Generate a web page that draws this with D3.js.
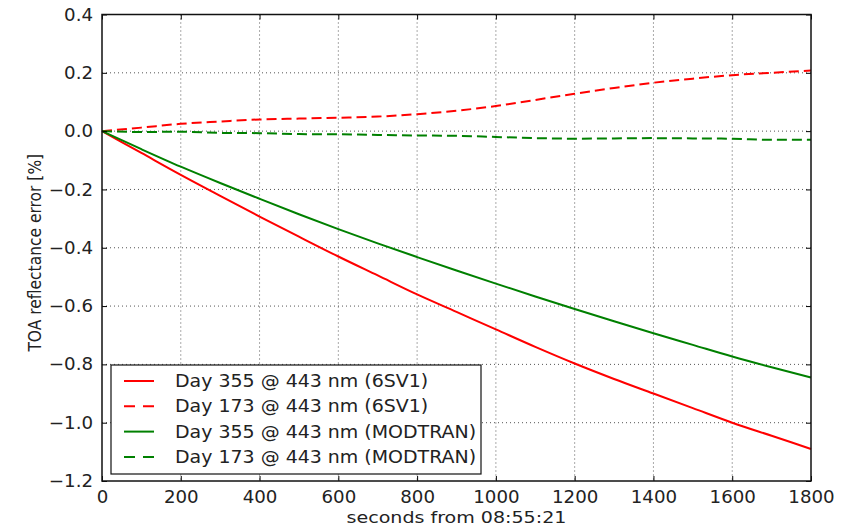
<!DOCTYPE html>
<html>
<head>
<meta charset="utf-8">
<script src="https://cdn.jsdelivr.net/npm/d3@7"></script>
<style>
  body { margin: 0; background: #fff; }
  text { font-family: "DejaVu Sans", sans-serif; fill: #222; }
</style>
</head>
<body>
<div class="chart"></div>
<script>
/*** DATA ***/
const seconds = [0, 100, 200, 300, 400, 500, 600, 700, 800, 900, 1000, 1100, 1200, 1300, 1400, 1500, 1600, 1700, 1800];
const day355_6sv = [0, -0.075, -0.15, -0.222, -0.293, -0.362, -0.43, -0.495, -0.56, -0.62, -0.68, -0.74, -0.797, -0.85, -0.90, -0.95, -1.0, -1.045, -1.09];
const day173_6sv = [0, 0.012, 0.025, 0.033, 0.04, 0.043, 0.046, 0.05, 0.058, 0.07, 0.086, 0.107, 0.128, 0.148, 0.166, 0.18, 0.192, 0.2, 0.208];
const day355_mod = [0, -0.062, -0.122, -0.178, -0.232, -0.285, -0.336, -0.385, -0.432, -0.478, -0.523, -0.567, -0.61, -0.652, -0.693, -0.733, -0.773, -0.81, -0.845];
const day173_mod = [0, -0.003, -0.002, -0.006, -0.007, -0.01, -0.011, -0.013, -0.015, -0.016, -0.02, -0.024, -0.026, -0.025, -0.024, -0.025, -0.026, -0.03, -0.03];

const xTicks = [0, 200, 400, 600, 800, 1000, 1200, 1400, 1600, 1800];
const yTicks = [0.4, 0.2, 0.0, -0.2, -0.4, -0.6, -0.8, -1.0, -1.2];

const series = [
  { label: 'Day 355 @ 443 nm (6SV1)', values: day355_6sv, color: '#ff0000', dash: null },
  { label: 'Day 173 @ 443 nm (6SV1)', values: day173_6sv, color: '#ff0000', dash: '10,5' },
  { label: 'Day 355 @ 443 nm (MODTRAN)', values: day355_mod, color: '#008000', dash: null },
  { label: 'Day 173 @ 443 nm (MODTRAN)', values: day173_mod, color: '#008000', dash: '10,5' }
];

/*** LAYOUT ***/
const W = 859, H = 528;
const margin = { top: 14.5, left: 102, right: 48, bottom: 47 };
const width = W - margin.left - margin.right;
const height = H - margin.top - margin.bottom;

// the picture is a bit wider than tall, so text is stretched sideways
function stretch(sel, k) {
  sel.each(function() {
    const len = this.getComputedTextLength();
    d3.select(this)
      .attr('textLength', len * k)
      .attr('lengthAdjust', 'spacingAndGlyphs');
  });
}

const svg = d3.select('.chart')
  .append('svg')
  .attr('width', W)
  .attr('height', H);

const g = svg.append('g')
  .attr('transform', `translate(${margin.left}, ${margin.top})`);

const x = d3.scaleLinear().domain([0, 1800]).range([0, width]);
const y = d3.scaleLinear().domain([-1.2, 0.4]).range([height, 0]);

// grid
g.append('g')
  .selectAll('line')
  .data(xTicks.slice(1, -1))
  .join('line')
  .attr('x1', d => x(d)).attr('x2', d => x(d))
  .attr('y1', 0).attr('y2', height)
  .attr('stroke', '#555')
  .attr('stroke-width', 1)
  .attr('stroke-dasharray', '1,3');

g.append('g')
  .selectAll('line')
  .data(yTicks.slice(1, -1))
  .join('line')
  .attr('x1', 0).attr('x2', width)
  .attr('y1', d => y(d)).attr('y2', d => y(d))
  .attr('stroke', '#555')
  .attr('stroke-width', 1)
  .attr('stroke-dasharray', '1,3');

// lines
const line = d3.line()
  .x((d, i) => x(seconds[i]))
  .y(d => y(d))
  .curve(d3.curveMonotoneX);

g.selectAll('.series')
  .data(series)
  .join('path')
  .attr('class', 'series')
  .attr('d', d => line(d.values))
  .attr('fill', 'none')
  .attr('stroke', d => d.color)
  .attr('stroke-width', 2)
  .attr('stroke-dasharray', d => d.dash);

// axes (ticks inside, on all four sides)
const fmt = d => d3.format('.1f')(d).replace('-', '\u2212');

g.append('g')
  .attr('transform', `translate(0, ${height})`)
  .call(d3.axisBottom(x).tickValues(xTicks).tickSizeInner(-5).tickSizeOuter(0).tickPadding(10).tickFormat(d3.format('d')))
  .call(a => a.select('.domain').remove())
  .call(a => a.selectAll('text').style('font-size', '17.5px').style('font-family', '"DejaVu Sans", sans-serif').attr('fill', '#222'))
  .call(a => stretch(a.selectAll('text'), 1.04));

g.append('g')
  .call(d3.axisTop(x).tickValues(xTicks).tickSizeInner(-5).tickSizeOuter(0).tickFormat(''))
  .call(a => a.select('.domain').remove());

g.append('g')
  .call(d3.axisLeft(y).tickValues(yTicks).tickSizeInner(-5).tickSizeOuter(0).tickPadding(9).tickFormat(fmt))
  .call(a => a.select('.domain').remove())
  .call(a => a.selectAll('text').style('font-size', '17.5px').style('font-family', '"DejaVu Sans", sans-serif').attr('fill', '#222'))
  .call(a => stretch(a.selectAll('text'), 1.04));

g.append('g')
  .attr('transform', `translate(${width}, 0)`)
  .call(d3.axisRight(y).tickValues(yTicks).tickSizeInner(-5).tickSizeOuter(0).tickFormat(''))
  .call(a => a.select('.domain').remove());

g.selectAll('.tick line').attr('stroke', '#000').attr('stroke-width', 1);

// frame
g.append('rect')
  .attr('width', width)
  .attr('height', height)
  .attr('fill', 'none')
  .attr('stroke', '#111')
  .attr('stroke-width', 1.5);

// LEGEND
const legend = svg.append('g')
  .attr('transform', 'translate(111, 365)');

legend.append('rect')
  .attr('width', 370)
  .attr('height', 109)
  .attr('fill', '#fff')
  .attr('stroke', '#111')
  .attr('stroke-width', 1.2);

const rows = legend.selectAll('.row')
  .data(series)
  .join('g')
  .attr('class', 'row')
  .attr('transform', (d, i) => `translate(0, ${16 + i * 25.3})`);

rows.append('line')
  .attr('x1', 13).attr('x2', 43)
  .attr('stroke', d => d.color)
  .attr('stroke-width', 2)
  .attr('stroke-dasharray', d => d.dash ? '11,8' : null);

rows.append('text')
  .attr('x', 64)
  .attr('y', 6)
  .style('font-size', '17px')
  .text(d => d.label)
  .call(t => stretch(t, 1.115));

// LABELS
svg.append('text')
  .attr('x', margin.left + width / 2)
  .attr('y', 523)
  .attr('text-anchor', 'middle')
  .style('font-size', '16px')
  .text('seconds from 08:55:21')
  .call(t => stretch(t, 1.19));

svg.append('text')
  .attr('transform', `translate(40.5, ${margin.top + height / 2 + 5}) scale(1.12, 1) rotate(-90)`)
  .attr('text-anchor', 'middle')
  .style('font-size', '15.5px')
  .text('TOA reflectance error [%]');
</script>
</body>
</html>
